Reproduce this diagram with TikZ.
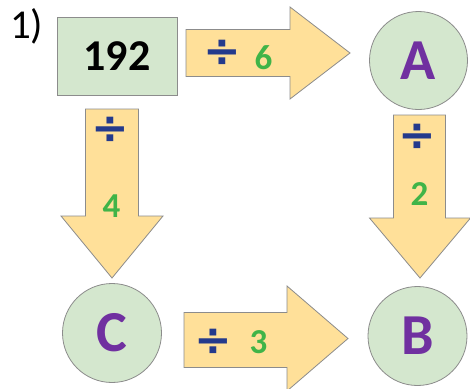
\documentclass[tikz,border=0pt]{standalone}
\usepackage{fontspec}
\setmainfont{Carlito}
\newfontfamily\divfont{DejaVu Sans}
\definecolor{boxgreen}{RGB}{212,231,206}
\definecolor{arrowfill}{RGB}{255,224,153}
\definecolor{edgegray}{RGB}{140,140,140}
\definecolor{letterpurple}{RGB}{112,48,160}
\definecolor{numgreen}{RGB}{64,180,72}
\definecolor{divblue}{RGB}{36,58,140}
\begin{document}
\begin{tikzpicture}[x=1pt,y=-1pt,
  greenshape/.style={fill=boxgreen, draw=edgegray, line width=0.8pt},
  blockarrow/.style={fill=arrowfill, draw=edgegray, line width=0.8pt, line join=miter},
  letter/.style={text=letterpurple, font=\fontsize{58}{58}\selectfont\bfseries, inner sep=0pt},
  num/.style={text=numgreen, font=\fontsize{35}{35}\selectfont\bfseries, inner sep=0pt},
  divsign/.style={text=divblue, font=\divfont\bfseries\fontsize{45}{45}\selectfont, inner sep=0pt}]
\useasboundingbox (0,0) rectangle (470,388);
\fill[white] (0,0) rectangle (470,388);
% label
\node[font=\fontsize{41}{41}\selectfont, inner sep=0pt, anchor=north west] (lbl) at (10,8) {1)};
% start box
\node[greenshape, minimum width=120pt, minimum height=78pt, inner sep=0pt] (start) at (117,56) {};
\node[font=\fontsize{44}{44}\selectfont\bfseries, text=black, inner sep=0pt] (startnum) at (start.center) {192};
% circles
\node[greenshape, circle, minimum size=98pt, inner sep=0pt] (A) at (418.5,60.5) {};
\node[greenshape, circle, minimum size=99pt, inner sep=0pt] (C) at (112,333) {};
\node[greenshape, circle, minimum size=99pt, inner sep=0pt] (B) at (417.5,336) {};
\node[letter] (Alab) at (A.center) {A};
\node[letter] (Blab) at (B.center) {B};
\node[letter] (Clab) at (C.center) {C};
% top arrow
\draw[blockarrow] (186,29.5) -- (290,29.5) -- (290,7) -- (350,53) -- (290,99) -- (290,76.5) -- (186,76.5) -- cycle;
\node[divsign] (d1) at (222,53) {÷};
\node[num] (n1) at (263.5,57.5) {6};
% left down arrow
\draw[blockarrow] (85.5,109) -- (138.5,109) -- (138.5,216) -- (163,216) -- (112,278) -- (61,216) -- (85.5,216) -- cycle;
\node[divsign] (d2) at (110,130) {÷};
\node[num] (n2) at (111.5,206.5) {4};
% right down arrow
\draw[blockarrow] (393.5,115) -- (445.5,115) -- (445.5,218) -- (470.5,218) -- (420,278) -- (369.5,218) -- (393.5,218) -- cycle;
\node[divsign] (d3) at (417,137) {÷};
\node[num] (n3) at (419.5,194.5) {2};
% bottom arrow
\draw[blockarrow] (184,312.5) -- (287,312.5) -- (287,286) -- (348,338.5) -- (287,391) -- (287,367.5) -- (184,367.5) -- cycle;
\node[divsign] (d4) at (213.5,342) {÷};
\node[num] (n4) at (258.5,342) {3};
\end{tikzpicture}
\end{document}
